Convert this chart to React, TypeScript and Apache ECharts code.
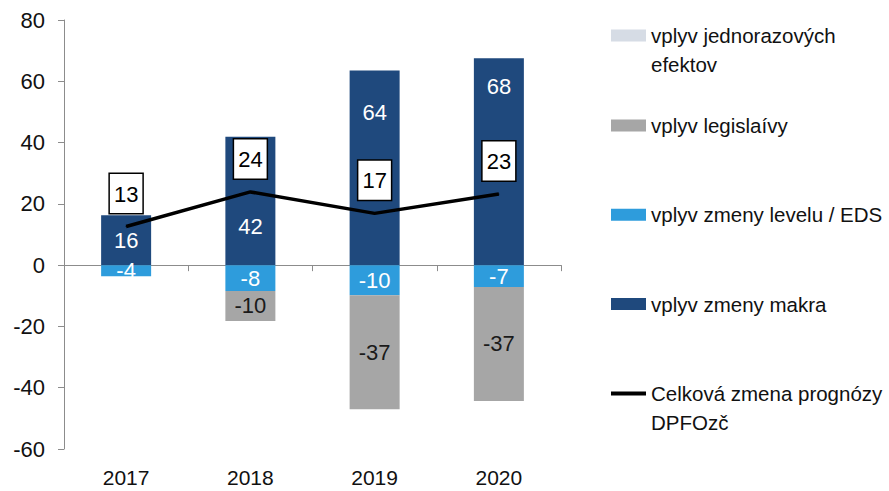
import React, { useEffect, useRef } from "react";
import * as echarts from "echarts";

const categories = ["2017", "2018", "2019", "2020"];
const jednorazove = [0, 0, 0, 0];
const legislativa = [null, -9.8, -37.2, -37.2];
const eds = [-3.6, -8.4, -9.8, -7.1];
const makro = [16.3, 41.9, 63.5, 67.5];
const celkova = [12.6, 23.9, 16.9, 23.2];

const yMin = -60;
const yMax = 80;
const yStep = 20;

const N_J = "vplyv jednorazových efektov";
const N_L = "vplyv legislaívy";
const N_E = "vplyv zmeny levelu / EDS";
const N_M = "vplyv zmeny makra";
const N_C = "Celková zmena prognózy DPFOzč";

const legendLines: Record<string, string[]> = {
  [N_J]: ["vplyv jednorazových", "efektov"],
  [N_L]: [N_L],
  [N_E]: [N_E],
  [N_M]: [N_M],
  [N_C]: ["Celková zmena prognózy", "DPFOzč"],
};

// style: vertical shift of makro labels (px)
const makroLabelShift = [0, 26, -55, -75];

const FONT = "'Liberation Sans', Arial, Helvetica, sans-serif";

const C_J = "#D6DCE5";
const C_L = "#A6A6A6";
const C_E = "#2E9CDC";
const C_M = "#1F497D";

export default function App() {
  const ref = useRef<HTMLDivElement>(null);
  useEffect(() => {
    document.body.style.margin = "0";
    const chart = echarts.init(ref.current!, undefined, { renderer: "svg" });
    const round = (p: any) => {
      const v = Array.isArray(p.value) ? p.value[1] : p.value;
      return v == null ? "" : String(Math.round(v));
    };
    const legendItems = [
      { name: N_J, center: 39.5, h: 12 },
      { name: N_L, center: 129.5, h: 12 },
      { name: N_E, center: 218.8, h: 12 },
      { name: N_M, center: 308, h: 12 },
      { name: N_C, center: 397.5, h: 4 },
    ];
    const LH = 29;
    const barLabel = (color: string) => ({
      show: true,
      position: "inside" as const,
      color,
      fontSize: 22,
      fontFamily: FONT,
      formatter: round,
    });
    chart.setOption({
      animation: false,
      textStyle: { fontFamily: FONT },
      grid: { left: 64, right: 328, top: 20, bottom: 42, containLabel: false },
      legend: legendItems.map((it) => {
        const lines = legendLines[it.name];
        const multi = lines.length > 1;
        const half = multi ? (LH * 3) / 2 : LH / 2;
        return {
          data: [it.name],
          left: 611,
          top: it.center - half,
          padding: 0,
          itemWidth: 35,
          itemHeight: it.h,
          icon: "rect",
          selectedMode: false,
          formatter: () =>
            (multi ? ["{t| }"] : []).concat(lines.map((l) => `{t|${l}}`)).join("\n"),
          textStyle: {
            fontFamily: FONT,
            fontSize: 20.5,
            color: "#111",
            rich: {
              t: { fontFamily: FONT, fontSize: 20.5, lineHeight: LH, color: "#111" },
            },
          },
        };
      }),
      xAxis: [
        {
          type: "category",
          data: categories,
          position: "bottom",
          axisLine: { show: false, onZero: false },
          axisTick: { show: false },
          axisLabel: { fontSize: 21, color: "#111", margin: 18, fontFamily: FONT },
        },
        {
          type: "category",
          data: categories,
          position: "bottom",
          axisLine: { show: true, onZero: true, lineStyle: { color: "#8C8C8C", width: 1 } },
          axisTick: { show: true, length: 6, lineStyle: { color: "#8C8C8C" } },
          axisLabel: { show: false },
        },
      ],
      yAxis: {
        type: "value",
        min: yMin,
        max: yMax,
        interval: yStep,
        axisLine: { show: true, lineStyle: { color: "#8C8C8C", width: 1 } },
        axisTick: { show: true, length: 6, lineStyle: { color: "#8C8C8C" } },
        splitLine: { show: false },
        axisLabel: { fontSize: 22, color: "#111", margin: 19, fontFamily: FONT },
      },
      series: [
        {
          name: N_M,
          type: "bar",
          stack: "a",
          barWidth: 50,
          itemStyle: { color: C_M },
          data: makro.map((v, i) => ({
            value: v,
            label: { offset: [0, makroLabelShift[i]] },
          })),
          label: barLabel("#fff"),
        },
        {
          name: N_E,
          type: "bar",
          stack: "a",
          barWidth: 50,
          itemStyle: { color: C_E },
          data: eds,
          label: barLabel("#fff"),
        },
        {
          name: N_L,
          type: "bar",
          stack: "a",
          barWidth: 50,
          itemStyle: { color: C_L },
          data: legislativa,
          label: barLabel("#1a1a1a"),
        },
        {
          name: N_J,
          type: "bar",
          stack: "a",
          barWidth: 50,
          itemStyle: { color: C_J },
          data: jednorazove,
        },
        {
          name: N_C,
          type: "line",
          z: 10,
          symbol: "circle",
          symbolSize: 1,
          itemStyle: { color: "#000" },
          lineStyle: { color: "#000", width: 3.5 },
          data: celkova,
          label: {
            show: true,
            position: "top",
            distance: 13,
            formatter: round,
            color: "#000",
            fontSize: 22,
            fontFamily: FONT,
            lineHeight: 24,
            backgroundColor: "#fff",
            borderColor: "#000",
            borderWidth: 1.5,
            padding: [8, 4, 7, 4],
          },
        },
      ],
    });
    return () => chart.dispose();
  }, []);
  return (
    <div
      ref={ref}
      style={{ position: "absolute", left: 0, top: 0, width: 889, height: 491 }}
    />
  );
}
